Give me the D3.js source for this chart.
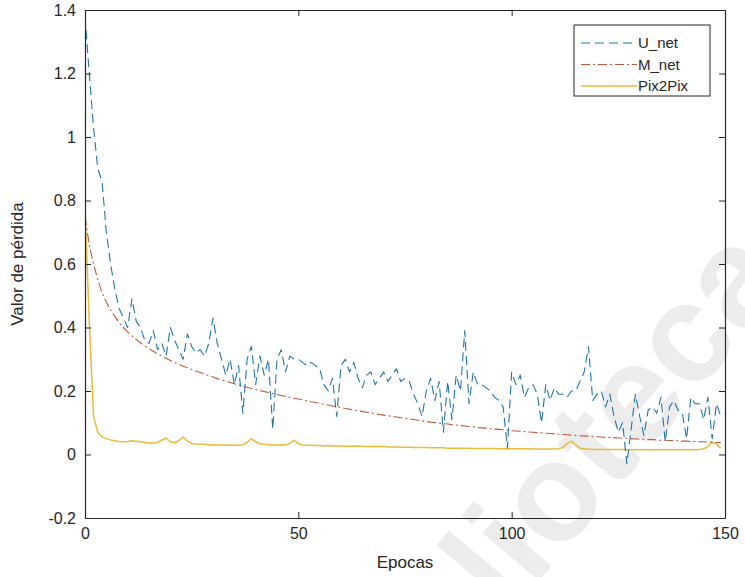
<!DOCTYPE html>
<html>
<head>
<meta charset="utf-8">
<script src="https://cdn.jsdelivr.net/npm/d3@7"></script>
<style>
  body { margin: 0; background: #fff; }
  text { font-family: "Liberation Sans", Arial, sans-serif; }
</style>
</head>
<body>
<div id="chart"></div>
<script>
// values, one per epoch (0..149)
const epochs = d3.range(0, 150);

const uNet = [
  1.38, 1.2, 1.03, 0.9, 0.86, 0.7, 0.6, 0.52, 0.46, 0.43,
  0.4, 0.49, 0.42, 0.4, 0.36, 0.35, 0.39, 0.33, 0.35, 0.31,
  0.4, 0.36, 0.33, 0.3, 0.38, 0.34, 0.32, 0.33, 0.31, 0.35,
  0.43, 0.35, 0.3, 0.25, 0.3, 0.22, 0.28, 0.13, 0.3, 0.34,
  0.22, 0.31, 0.25, 0.3, 0.08, 0.3, 0.33, 0.26, 0.31, 0.3,
  0.3, 0.29, 0.28, 0.29, 0.28, 0.27, 0.22, 0.2, 0.24, 0.12,
  0.28, 0.3, 0.26, 0.29, 0.24, 0.21, 0.25, 0.26, 0.22, 0.24,
  0.26, 0.23, 0.25, 0.27, 0.23, 0.24, 0.23, 0.19, 0.16, 0.12,
  0.2, 0.24, 0.17, 0.23, 0.07, 0.23, 0.11, 0.25, 0.2, 0.39,
  0.16, 0.26, 0.22, 0.22, 0.21, 0.2, 0.18, 0.17, 0.15, 0.02,
  0.26, 0.22, 0.25, 0.18, 0.21, 0.22, 0.19, 0.1, 0.22, 0.17,
  0.21, 0.19, 0.19, 0.18, 0.2, 0.2, 0.23, 0.26, 0.34, 0.17,
  0.19, 0.2, 0.15, 0.19, 0.12, 0.07, 0.1, -0.03, 0.08, 0.19,
  0.12, 0.06, 0.14, 0.15, 0.13, 0.18, 0.04, 0.15, 0.17, 0.14,
  0.13, 0.05, 0.18, 0.16, 0.16, 0.11, 0.18, 0.05, 0.16, 0.12
];

const mNet = [
  0.75, 0.66, 0.6, 0.55, 0.51, 0.48, 0.455, 0.435, 0.415, 0.4,
  0.386, 0.374, 0.362, 0.352, 0.342, 0.333, 0.325, 0.317, 0.31, 0.303,
  0.296, 0.29, 0.284, 0.278, 0.273, 0.268, 0.263, 0.258, 0.253, 0.248,
  0.244, 0.239, 0.235, 0.231, 0.227, 0.223, 0.219, 0.215, 0.212, 0.208,
  0.205, 0.201, 0.198, 0.195, 0.192, 0.189, 0.186, 0.183, 0.18, 0.177,
  0.175, 0.172, 0.169, 0.166, 0.164, 0.161, 0.158, 0.156, 0.153, 0.15,
  0.148, 0.145, 0.143, 0.14, 0.138, 0.135, 0.133, 0.131, 0.128, 0.126,
  0.124, 0.122, 0.12, 0.118, 0.116, 0.114, 0.112, 0.11, 0.108, 0.106,
  0.104, 0.102, 0.101, 0.099, 0.097, 0.096, 0.094, 0.093, 0.091, 0.09,
  0.088, 0.087, 0.085, 0.084, 0.083, 0.081, 0.08, 0.079, 0.078, 0.076,
  0.075, 0.074, 0.073, 0.072, 0.071, 0.07, 0.069, 0.068, 0.067, 0.066,
  0.065, 0.064, 0.063, 0.062, 0.061, 0.06, 0.059, 0.058, 0.058, 0.057,
  0.056, 0.055, 0.054, 0.054, 0.053, 0.052, 0.051, 0.051, 0.05, 0.049,
  0.049, 0.048, 0.047, 0.047, 0.046, 0.045, 0.045, 0.044, 0.044, 0.043,
  0.042, 0.042, 0.041, 0.041, 0.04, 0.04, 0.039, 0.039, 0.038, 0.038
];

const pix2pix = [
  0.77, 0.42, 0.12, 0.07, 0.055, 0.05, 0.046, 0.043, 0.041, 0.04,
  0.041, 0.043, 0.042, 0.04, 0.038, 0.036, 0.036, 0.038, 0.045, 0.052,
  0.04, 0.037, 0.044, 0.055, 0.042, 0.035, 0.033, 0.032, 0.032, 0.031,
  0.031, 0.03, 0.03, 0.03, 0.03, 0.029, 0.029, 0.03, 0.038, 0.05,
  0.04, 0.034, 0.032, 0.031, 0.03, 0.03, 0.031, 0.03, 0.035, 0.045,
  0.034, 0.03, 0.029, 0.029, 0.028, 0.028, 0.027, 0.028, 0.027, 0.027,
  0.027, 0.026, 0.026, 0.027, 0.026, 0.026, 0.025, 0.025, 0.026, 0.025,
  0.025, 0.024, 0.024, 0.024, 0.023, 0.023, 0.023, 0.022, 0.022, 0.022,
  0.022, 0.021, 0.021, 0.021, 0.021, 0.02, 0.02, 0.02, 0.02, 0.02,
  0.02, 0.019, 0.019, 0.019, 0.019, 0.019, 0.019, 0.018, 0.018, 0.018,
  0.018, 0.018, 0.018, 0.018, 0.018, 0.017, 0.017, 0.017, 0.017, 0.017,
  0.017, 0.018, 0.022, 0.035, 0.042, 0.03, 0.02, 0.017, 0.017, 0.016,
  0.016, 0.016, 0.016, 0.016, 0.016, 0.016, 0.016, 0.015, 0.015, 0.015,
  0.015, 0.015, 0.015, 0.015, 0.015, 0.015, 0.015, 0.015, 0.015, 0.015,
  0.015, 0.015, 0.015, 0.015, 0.016, 0.018, 0.025, 0.04, 0.032, 0.02
];

const xTicks = [0, 50, 100, 150];
const yTicks = [-0.2, 0, 0.2, 0.4, 0.6, 0.8, 1, 1.2, 1.4];

const series = [
  { name: "U_net", values: uNet, color: "#1f75a6", dash: "9,5", width: 1.1 },
  { name: "M_net", values: mNet, color: "#bd5a3c", dash: "9,3,2,3", width: 1.1 },
  { name: "Pix2Pix", values: pix2pix, color: "#e8bd38", dash: null, width: 1.5 }
];

const W = 745, H = 577;
const margin = { top: 10, right: 20, bottom: 59, left: 85 };
const width = W - margin.left - margin.right,
  height = H - margin.top - margin.bottom;

const svg = d3.select("#chart").append("svg")
  .attr("width", W)
  .attr("height", H);

// faint watermark behind the plot
svg.append("text")
  .attr("transform", "translate(508,618) rotate(-50)")
  .attr("font-size", 140)
  .attr("font-weight", "bold")
  .attr("fill", "#000")
  .attr("opacity", 0.07)
  .text("lioteca");

const g = svg.append("g")
  .attr("transform", "translate(" + margin.left + "," + margin.top + ")");

const x = d3.scaleLinear().domain([0, 150]).range([0, width]);
const y = d3.scaleLinear().domain([-0.2, 1.4]).range([height, 0]);

g.append("defs").append("clipPath").attr("id", "clip")
  .append("rect").attr("width", width).attr("height", height);

const line = d3.line()
  .x((d, i) => x(epochs[i]))
  .y(d => y(d));

const plot = g.append("g").attr("clip-path", "url(#clip)");
series.slice().reverse().forEach(s => {
  plot.append("path")
    .datum(s.values)
    .attr("fill", "none")
    .attr("stroke", s.color)
    .attr("stroke-width", s.width)
    .attr("stroke-dasharray", s.dash)
    .attr("stroke-linejoin", "round")
    .attr("d", line);
});

// axes, MATLAB style: ticks inside, mirrored on all four sides
const axisColor = "#262626";
const styleAxis = sel => {
  sel.select(".domain").attr("stroke", axisColor).attr("stroke-width", 1.2);
  sel.selectAll(".tick line").attr("stroke", axisColor);
  sel.selectAll(".tick text")
    .attr("fill", axisColor)
    .attr("font-size", 16);
};

g.append("g")
  .attr("transform", "translate(0," + height + ")")
  .call(d3.axisBottom(x).tickValues(xTicks).tickSize(-6).tickPadding(10).tickSizeOuter(0))
  .call(styleAxis);

g.append("g")
  .call(d3.axisTop(x).tickValues(xTicks).tickSize(-6).tickFormat("").tickSizeOuter(0))
  .call(styleAxis);

// plain hyphen for negatives, as in the figure
g.append("g")
  .call(d3.axisLeft(y).tickValues(yTicks).tickSize(-6).tickPadding(9).tickSizeOuter(0)
    .tickFormat(d => String(+d.toFixed(1))))
  .call(styleAxis);

g.append("g")
  .attr("transform", "translate(" + width + ",0)")
  .call(d3.axisRight(y).tickValues(yTicks).tickSize(-6).tickFormat("").tickSizeOuter(0))
  .call(styleAxis);

// axis titles
g.append("text")
  .attr("x", width / 2)
  .attr("y", height + 50)
  .attr("text-anchor", "middle")
  .attr("font-size", 17)
  .attr("fill", axisColor)
  .text("Epocas");

g.append("text")
  .attr("transform", "translate(-62," + (height / 2) + ") rotate(-90)")
  .attr("text-anchor", "middle")
  .attr("font-size", 17)
  .attr("fill", axisColor)
  .text("Valor de pérdida");

// legend
const lg = svg.append("g").attr("transform", "translate(574,25)");
lg.append("rect")
  .attr("width", 136)
  .attr("height", 71)
  .attr("fill", "#fff")
  .attr("stroke", axisColor)
  .attr("stroke-width", 1);

series.forEach((s, i) => {
  const yy = 18 + i * 21.5;
  lg.append("line")
    .attr("x1", 7).attr("x2", 63)
    .attr("y1", yy).attr("y2", yy)
    .attr("stroke", s.color)
    .attr("stroke-width", s.width)
    .attr("stroke-dasharray", s.dash);
  lg.append("text")
    .attr("x", 64)
    .attr("y", yy + 5)
    .attr("font-size", 15)
    .attr("fill", axisColor)
    .text(s.name);
});
</script>
</body>
</html>
